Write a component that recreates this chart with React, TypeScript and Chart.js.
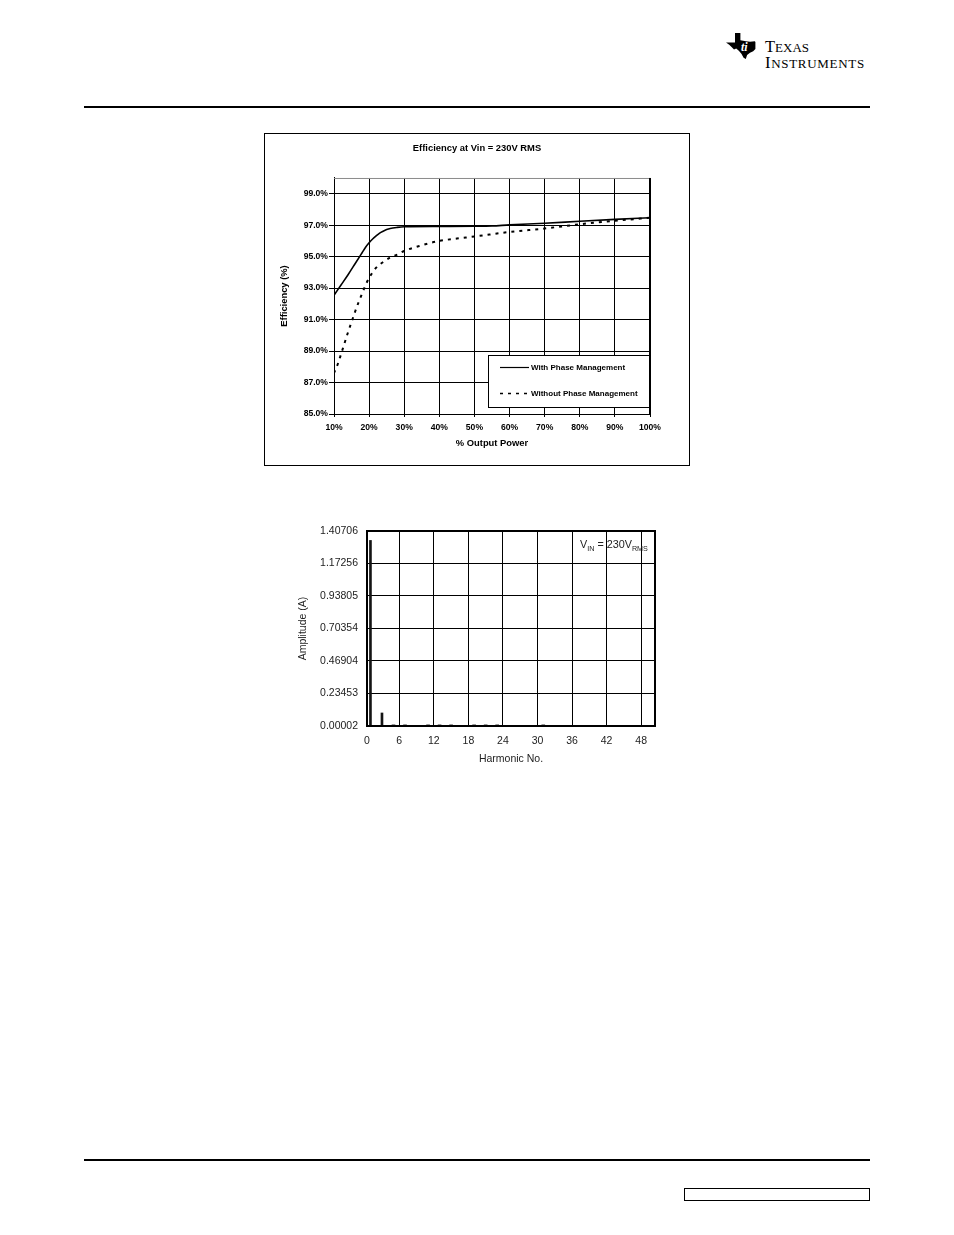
import React, { useEffect, useRef } from "react";
import { Chart, registerables } from "chart.js";

Chart.register(...registerables);

const FONT = "'Liberation Sans', Arial, Helvetica, sans-serif";

// ---------- Efficiency chart data ----------
const efficiencyTitle = "Efficiency at Vin = 230V RMS";
const efficiencyAxisTitle = "Efficiency (%)";
const outputPowerAxisTitle = "% Output Power";
const outputPowerTicks = [10, 20, 30, 40, 50, 60, 70, 80, 90, 100];
const efficiencyTicks = [85, 87, 89, 91, 93, 95, 97, 99];
const seriesNames = ["With Phase Management", "Without Phase Management"];

const withPhaseX = [10, 12, 14, 16, 18, 19, 20, 21, 22, 23, 24, 25, 26, 28, 30, 40, 50, 55, 60, 70, 80, 90, 100];
const withPhaseY = [92.55, 93.2, 93.85, 94.55, 95.25, 95.6, 95.88, 96.12, 96.32, 96.5, 96.62, 96.72, 96.79, 96.86, 96.9, 96.92, 96.93, 96.95, 97.02, 97.12, 97.25, 97.37, 97.47];

const withoutPhaseX = [10, 11, 12, 13, 14, 15, 16, 17, 18, 19, 20, 22, 24, 26, 28, 30, 35, 40, 45, 50, 60, 70, 80, 90, 100];
const withoutPhaseY = [87.6, 88.13, 88.8, 89.5, 90.2, 90.85, 91.5, 92.1, 92.65, 93.2, 93.65, 94.3, 94.66, 94.94, 95.13, 95.36, 95.72, 96.0, 96.15, 96.28, 96.57, 96.79, 97.06, 97.28, 97.47];

// ---------- Harmonic chart data ----------
const harmonicAxisTitle = "Harmonic No.";
const amplitudeAxisTitle = "Amplitude (A)";
const harmonicNumbers = [1, 3, 5, 7, 11, 13, 15, 19, 21, 23, 31];
const harmonicAmplitudes = [1.339, 0.094, 0.008, 0.008, 0.008, 0.008, 0.008, 0.008, 0.008, 0.008, 0.008];
const amplitudeTickLabels = ["0.00002", "0.23453", "0.46904", "0.70354", "0.93805", "1.17256", "1.40706"];
const harmonicAxisMin = 0.4;
const harmonicAxisMax = 50.4;
const harmonicTickValues = [0.4, 6, 12, 18, 24, 30, 36, 42, 48];
const harmonicTickLabels = ["0", "6", "12", "18", "24", "30", "36", "42", "48"];

function EfficiencyChart() {
  const ref = useRef<HTMLCanvasElement>(null);
  useEffect(() => {
    const canvas = ref.current;
    if (!canvas) return;
    const dash = [3, 5];
    const legendPlugin = {
      id: "effLegend",
      afterDatasetsDraw(chart: any) {
        const { ctx, chartArea: a } = chart;
        ctx.save();
        ctx.lineWidth = 1;
        ctx.strokeStyle = "#8a8a8a";
        ctx.beginPath();
        ctx.moveTo(a.left, a.top + 0.5);
        ctx.lineTo(a.right, a.top + 0.5);
        ctx.stroke();
        ctx.strokeStyle = "#000";
        ctx.beginPath();
        ctx.moveTo(a.right - 0.5, a.top);
        ctx.lineTo(a.right - 0.5, a.bottom);
        ctx.stroke();
        const w = 162;
        const h = 53;
        const x0 = a.right - w;
        const y0 = a.bottom - 6 - h;
        ctx.fillStyle = "#fff";
        ctx.fillRect(x0, y0, w, h);
        ctx.strokeStyle = "#000";
        ctx.strokeRect(x0 + 0.5, y0 + 0.5, w - 1, h - 1);
        const rows = [y0 + 12, y0 + 38];
        ctx.font = `bold 8px ${FONT}`;
        ctx.textBaseline = "middle";
        ctx.fillStyle = "#000";
        rows.forEach((ry, i) => {
          ctx.beginPath();
          ctx.lineWidth = i === 0 ? 1.2 : 1.5;
          ctx.setLineDash(i === 0 ? [] : dash);
          ctx.moveTo(x0 + 12, ry + 0.5);
          ctx.lineTo(x0 + 41, ry + 0.5);
          ctx.stroke();
          ctx.setLineDash([]);
          ctx.fillText(seriesNames[i], x0 + 43, ry + 0.5);
        });
        ctx.restore();
      },
    };
    const tickFont = { family: FONT, size: 8.6, weight: "bold" as const, lineHeight: 1.2 };
    const titleFont = { family: FONT, size: 9.4, weight: "bold" as const, lineHeight: 1.2 };
    const chart = new Chart(canvas, {
      type: "line",
      data: {
        datasets: [
          {
            label: seriesNames[0],
            data: withPhaseX.map((x, i) => ({ x, y: withPhaseY[i] })),
            borderColor: "#000",
            borderWidth: 1.6,
            pointRadius: 0,
            cubicInterpolationMode: "monotone",
            fill: false,
          },
          {
            label: seriesNames[1],
            data: withoutPhaseX.map((x, i) => ({ x, y: withoutPhaseY[i] })),
            borderColor: "#000",
            borderWidth: 2,
            borderDash: dash,
            pointRadius: 0,
            cubicInterpolationMode: "monotone",
            fill: false,
          },
        ],
      },
      options: {
        animation: false,
        responsive: false,
        devicePixelRatio: 1,
        layout: { padding: 0 },
        plugins: {
          legend: { display: false },
          tooltip: { enabled: false },
          title: {
            display: true,
            text: efficiencyTitle,
            color: "#000",
            font: titleFont,
            padding: { top: 8.4, bottom: 24.3 },
          },
        },
        scales: {
          x: {
            type: "linear",
            min: 10,
            max: 100,
            afterBuildTicks: (ax: any) => {
              ax.ticks = outputPowerTicks.map((v) => ({ value: v }));
            },
            afterFit: (s: any) => {
              s.height = 51;
              s.paddingLeft = 0;
              s.paddingRight = 0;
            },
            grid: { color: "#000", lineWidth: 1, drawTicks: true, tickLength: 3 },
            border: { display: true, color: "#000", width: 1 },
            ticks: {
              color: "#000",
              font: tickFont,
              padding: 5,
              maxRotation: 0,
              autoSkip: false,
              callback: (v: any) => `${v}%`,
            },
            title: {
              display: true,
              text: outputPowerAxisTitle,
              color: "#000",
              font: titleFont,
              padding: { top: 0, bottom: 16.4 },
            },
          },
          y: {
            type: "linear",
            min: 85,
            max: 100,
            afterBuildTicks: (ax: any) => {
              ax.ticks = efficiencyTicks.map((v) => ({ value: v }));
            },
            afterFit: (s: any) => {
              s.width = 69;
              s.paddingTop = 0;
              s.paddingBottom = 0;
            },
            grid: { color: "#000", lineWidth: 1, drawTicks: true, tickLength: 5 },
            border: { display: true, color: "#000", width: 1 },
            ticks: {
              color: "#000",
              font: tickFont,
              padding: 1,
              autoSkip: false,
              callback: (v: any) => `${Number(v).toFixed(1)}%`,
            },
            title: {
              display: true,
              text: efficiencyAxisTitle,
              color: "#000",
              font: titleFont,
              padding: { top: 14, bottom: 0 },
            },
          },
          yRight: {
            type: "linear",
            position: "right",
            display: true,
            grid: { display: false, drawTicks: false },
            border: { display: false },
            ticks: { display: false },
            afterFit: (s: any) => {
              s.width = 39;
              s.paddingTop = 0;
              s.paddingBottom = 0;
            },
          },
        },
      } as any,
      plugins: [legendPlugin],
    });
    return () => chart.destroy();
  }, []);
  return <canvas ref={ref} width={424} height={331} style={{ display: "block", width: 424, height: 331 }} />;
}

function HarmonicChart() {
  const ref = useRef<HTMLCanvasElement>(null);
  useEffect(() => {
    const canvas = ref.current;
    if (!canvas) return;
    const framePlugin = {
      id: "frame",
      afterDatasetsDraw(chart: any) {
        const { ctx, chartArea: a } = chart;
        ctx.save();
        ctx.strokeStyle = "#000";
        ctx.lineWidth = 2;
        ctx.strokeRect(a.left, a.top, a.right - a.left, a.bottom - a.top);
        ctx.restore();
      },
    };
    const font = { family: FONT, size: 10.5, lineHeight: 1.2 };
    const points = harmonicNumbers.map((h, i) => ({ x: h, y: harmonicAmplitudes[i] }));
    const chart = new Chart(canvas, {
      type: "bar",
      data: {
        datasets: [
          {
            data: points.filter((p) => p.y > 0.05),
            backgroundColor: "#141414",
            borderWidth: 0,
            barThickness: 2,
            grouped: false,
          },
          {
            data: points.filter((p) => p.y <= 0.05),
            backgroundColor: "#141414",
            borderWidth: 0,
            barThickness: 3,
            grouped: false,
          },
        ],
      },
      options: {
        animation: false,
        responsive: false,
        devicePixelRatio: 1,
        layout: { padding: { top: 11, right: 15, left: 0, bottom: 0 } },
        plugins: { legend: { display: false }, tooltip: { enabled: false } },
        scales: {
          x: {
            type: "linear",
            min: harmonicAxisMin,
            max: harmonicAxisMax,
            offset: false,
            afterBuildTicks: (ax: any) => {
              ax.ticks = harmonicTickValues.map((v) => ({ value: v }));
            },
            afterFit: (s: any) => {
              s.height = 54;
              s.paddingLeft = 0;
              s.paddingRight = 0;
            },
            grid: { color: "#000", lineWidth: 1, drawTicks: false, offset: false },
            border: { display: false },
            ticks: {
              color: "#222",
              font,
              padding: 9.2,
              maxRotation: 0,
              autoSkip: false,
              callback: (_v: any, i: number) => harmonicTickLabels[i],
            },
            title: {
              display: true,
              text: harmonicAxisTitle,
              color: "#222",
              font,
              padding: { top: 0, bottom: 14.7 },
            },
          },
          y: {
            type: "linear",
            min: parseFloat(amplitudeTickLabels[0]),
            max: parseFloat(amplitudeTickLabels[amplitudeTickLabels.length - 1]),
            afterBuildTicks: (ax: any) => {
              ax.ticks = amplitudeTickLabels.map((t) => ({ value: parseFloat(t) }));
            },
            afterFit: (s: any) => {
              s.width = 77;
              s.paddingTop = 0;
              s.paddingBottom = 0;
            },
            grid: { color: "#000", lineWidth: 1, drawTicks: false },
            border: { display: false },
            ticks: {
              color: "#222",
              font,
              padding: 9,
              autoSkip: false,
              callback: (_v: any, i: number) => amplitudeTickLabels[i],
            },
            title: {
              display: true,
              text: amplitudeAxisTitle,
              color: "#222",
              font,
              padding: { top: 6.7, bottom: 0 },
            },
          },
        },
      } as any,
      plugins: [framePlugin],
    });
    return () => chart.destroy();
  }, []);
  return <canvas ref={ref} width={380} height={260} style={{ display: "block", width: 380, height: 260 }} />;
}

function TILogo() {
  return (
    <>
      <svg width={32} height={26} viewBox="0 0 32 26" style={{ position: "absolute", left: 726, top: 33 }}>
        <polygon
          points="9,0 14.4,0 14.4,7.3 20,8.3 24,8.8 28.8,8.3 29.4,9.1 29.4,16.1 27.2,18.2 24,19.8 21.1,22.1 19.8,26 17.6,24.7 15.4,20.8 12.8,17.7 10.2,15.6 8,16.4 5.8,14.3 3.2,11.7 0,9.6 9,9.6"
          fill="#000"
        />
        <text
          x={15}
          y={18}
          fill="#fff"
          fontFamily="'Liberation Serif', serif"
          fontStyle="italic"
          fontWeight="bold"
          fontSize={12}
        >
          ti
        </text>
      </svg>
      <div
        style={{
          position: "absolute",
          left: 765,
          top: 39,
          fontFamily: "'Liberation Serif', serif",
          color: "#000",
          lineHeight: "15px",
          whiteSpace: "nowrap",
        }}
      >
        <div>
          <span style={{ fontSize: 16.5 }}>T</span>
          <span style={{ fontSize: 13 }}>EXAS</span>
        </div>
        <div style={{ letterSpacing: 0.7 }}>
          <span style={{ fontSize: 16.5 }}>I</span>
          <span style={{ fontSize: 13 }}>NSTRUMENTS</span>
        </div>
      </div>
    </>
  );
}

export default function App() {
  return (
    <div
      style={{
        position: "absolute",
        left: 0,
        top: 0,
        width: 954,
        height: 1235,
        background: "#fff",
        fontFamily: FONT,
        overflow: "hidden",
      }}
    >
      <TILogo />
      <div style={{ position: "absolute", left: 84, top: 106, width: 786, height: 2, background: "#000" }} />
      <div
        style={{
          position: "absolute",
          left: 264,
          top: 133,
          width: 426,
          height: 333,
          border: "1px solid #000",
          boxSizing: "border-box",
        }}
      >
        <EfficiencyChart />
      </div>
      <div style={{ position: "absolute", left: 290, top: 520 }}>
        <HarmonicChart />
      </div>
      <div
        style={{
          position: "absolute",
          left: 580,
          top: 538,
          fontSize: 10.8,
          lineHeight: "12px",
          color: "#222",
          whiteSpace: "nowrap",
        }}
      >
        {"V"}
        <span style={{ fontSize: 7.2, position: "relative", top: 2.5 }}>IN</span>
        {" = 230V"}
        <span style={{ fontSize: 7.2, position: "relative", top: 2.5 }}>RMS</span>
      </div>
      <div style={{ position: "absolute", left: 84, top: 1159, width: 786, height: 2, background: "#000" }} />
      <div
        style={{
          position: "absolute",
          left: 684,
          top: 1188,
          width: 186,
          height: 13,
          border: "1.5px solid #000",
          boxSizing: "border-box",
        }}
      />
    </div>
  );
}
